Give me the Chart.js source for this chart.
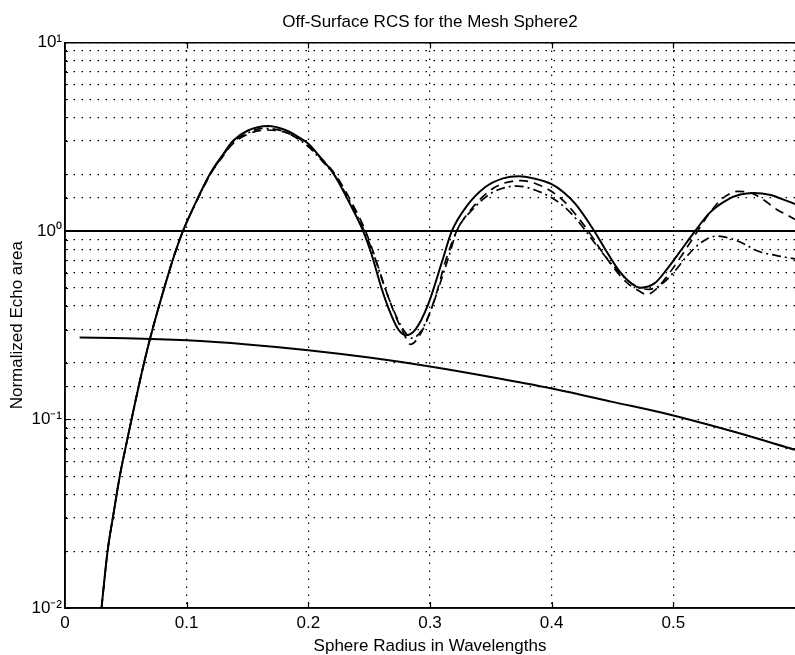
<!DOCTYPE html>
<html>
<head>
<meta charset="utf-8">
<title>Off-Surface RCS for the Mesh Sphere2</title>
<script src="https://cdn.jsdelivr.net/npm/chart.js@4/dist/chart.umd.min.js"></script>
<style>
    html, body { margin: 0; padding: 0; background: #fff; }
    #wrap { width: 795px; height: 655px; }
</style>
</head>
<body>
<div id="wrap"><canvas id="rcs-chart" width="795" height="655"></canvas></div>
<script>
// Data (x = sphere radius in wavelengths, y = normalized echo area)

// solid curve
const solidX = [0.030, 0.035, 0.040, 0.045, 0.050, 0.058, 0.065, 0.070, 0.080, 0.090,
    0.097, 0.108, 0.119, 0.130, 0.138, 0.150, 0.167, 0.180, 0.190, 0.200,
    0.210, 0.221, 0.233, 0.245, 0.252, 0.260, 0.268, 0.274, 0.280, 0.288,
    0.298, 0.310, 0.318, 0.330, 0.345, 0.360, 0.373, 0.385, 0.400, 0.410,
    0.420, 0.435, 0.445, 0.455, 0.465, 0.473, 0.485, 0.495, 0.505, 0.518,
    0.530, 0.545, 0.555, 0.566, 0.580, 0.590, 0.600];
const solidY = [0.010, 0.020, 0.032, 0.050, 0.072, 0.126, 0.20, 0.27, 0.46, 0.75,
    1.0, 1.44, 2.0, 2.55, 3.0, 3.4, 3.6, 3.45, 3.2, 2.9,
    2.45, 2.0, 1.44, 1.0, 0.75, 0.5, 0.36, 0.3, 0.28, 0.3,
    0.4, 0.69, 1.0, 1.35, 1.7, 1.9, 1.95, 1.9, 1.77, 1.6,
    1.38, 1.0, 0.78, 0.62, 0.53, 0.50, 0.53, 0.63, 0.77, 1.0,
    1.25, 1.47, 1.56, 1.59, 1.55, 1.47, 1.39];

// dashed curve
const dashX = [0.030, 0.035, 0.040, 0.045, 0.050, 0.058, 0.065, 0.070, 0.080, 0.090,
    0.097, 0.108, 0.119, 0.130, 0.138, 0.150, 0.165, 0.180, 0.190, 0.200,
    0.210, 0.222, 0.235, 0.247, 0.255, 0.263, 0.272, 0.278, 0.284, 0.290,
    0.297, 0.305, 0.313, 0.322, 0.335, 0.350, 0.362, 0.375, 0.387, 0.400,
    0.410, 0.418, 0.430, 0.440, 0.450, 0.462, 0.472, 0.478, 0.487, 0.497,
    0.508, 0.520, 0.530, 0.540, 0.553, 0.565, 0.575, 0.585, 0.595, 0.600];
const dashY = [0.010, 0.020, 0.032, 0.050, 0.072, 0.126, 0.20, 0.27, 0.46, 0.75,
    1.0, 1.43, 1.97, 2.5, 2.9, 3.25, 3.43, 3.35, 3.15, 2.85,
    2.45, 2.0, 1.44, 1.0, 0.72, 0.5, 0.35, 0.29, 0.25, 0.27,
    0.33, 0.46, 0.7, 1.0, 1.33, 1.65, 1.8, 1.85, 1.78, 1.62,
    1.44, 1.26, 1.0, 0.8, 0.65, 0.53, 0.48, 0.46, 0.5, 0.6,
    0.76, 1.0, 1.25, 1.48, 1.62, 1.58, 1.45, 1.3, 1.2, 1.15];

// dash-dot curve
const dashDotX = [0.030, 0.035, 0.040, 0.045, 0.050, 0.058, 0.065, 0.070, 0.080, 0.090,
    0.097, 0.108, 0.119, 0.130, 0.138, 0.150, 0.163, 0.178, 0.190, 0.200,
    0.210, 0.222, 0.235, 0.246, 0.254, 0.262, 0.270, 0.278, 0.285, 0.292,
    0.300, 0.308, 0.316, 0.322, 0.335, 0.350, 0.362, 0.372, 0.385, 0.400,
    0.410, 0.418, 0.428, 0.438, 0.450, 0.462, 0.472, 0.480, 0.490, 0.500,
    0.510, 0.520, 0.528, 0.536, 0.545, 0.557, 0.570, 0.585, 0.600];
const dashDotY = [0.010, 0.020, 0.032, 0.050, 0.072, 0.126, 0.20, 0.27, 0.46, 0.75,
    1.0, 1.43, 1.98, 2.52, 2.95, 3.3, 3.5, 3.4, 3.12, 2.8,
    2.4, 1.95, 1.4, 1.0, 0.74, 0.52, 0.38, 0.3, 0.27, 0.29,
    0.37, 0.52, 0.75, 1.0, 1.3, 1.58, 1.7, 1.73, 1.66, 1.5,
    1.35, 1.2, 1.0, 0.82, 0.66, 0.55, 0.5, 0.49, 0.52, 0.6,
    0.72, 0.84, 0.91, 0.94, 0.92, 0.86, 0.78, 0.74, 0.71];

// slowly falling lower curve
const lowX = [0.012, 0.05, 0.1, 0.15, 0.2, 0.25, 0.3, 0.35, 0.4, 0.45, 0.5, 0.55, 0.6];
const lowY = [0.272, 0.270, 0.263, 0.250, 0.233, 0.213, 0.191, 0.168, 0.146, 0.124, 0.105, 0.086, 0.069];

// reference level at 1
const refX = [0, 0.6];
const refY = [1, 1];

// tick labels
const xTickLabels = ['0', '0.1', '0.2', '0.3', '0.4', '0.5'];
const yTickValues = [0.01, 0.1, 1, 10];
const yTickLabels = ['10\u207B\u00B2', '10\u207B\u00B9', '10\u2070', '10\u00B9'];

const fontFamily = "'Liberation Sans', Arial, Helvetica, sans-serif";
Chart.defaults.font.family = fontFamily;
Chart.defaults.font.size = 17;
Chart.defaults.color = '#000';

function toPoints(xs, ys) {
    return xs.map((x, i) => ({ x: x, y: ys[i] }));
}

function lineSet(xs, ys, dash, width) {
    return {
        data: toPoints(xs, ys),
        borderColor: '#000',
        borderWidth: width,
        borderDash: dash,
        pointRadius: 0,
        fill: false,
        cubicInterpolationMode: 'monotone'
    };
}

const gridStyle = { color: '#000', lineWidth: 1.2, drawTicks: false };
const dotted = { display: true, color: '#000', width: 1.5, dash: [1.5, 6.5] };

const ctx = document.getElementById('rcs-chart').getContext('2d');
new Chart(ctx, {
    type: 'line',
    data: {
        datasets: [
            lineSet(refX, refY, [], 2),
            lineSet(lowX, lowY, [], 2),
            lineSet(dashDotX, dashDotY, [9, 4, 2, 4], 1.7),
            lineSet(dashX, dashY, [9, 6], 1.7),
            lineSet(solidX, solidY, [], 2)
        ]
    },
    options: {
        responsive: false,
        animation: false,
        layout: { padding: 0 },
        plugins: {
            legend: { display: false },
            tooltip: { enabled: false },
            title: {
                display: true,
                fullSize: false,
                text: 'Off-Surface RCS for the Mesh Sphere2',
                font: { size: 17, weight: 'normal' },
                color: '#000',
                padding: { top: 12, bottom: 10 }
            }
        },
        scales: {
            x: {
                type: 'linear',
                min: 0,
                max: 0.6,
                grid: gridStyle,
                border: dotted,
                ticks: {
                    stepSize: 0.1,
                    padding: 5,
                    maxRotation: 0,
                    callback: function(value) {
                        const i = Math.round(value * 10);
                        return i < xTickLabels.length ? xTickLabels[i] : null;
                    }
                },
                title: {
                    display: true,
                    text: 'Sphere Radius in Wavelengths',
                    padding: { top: 0, bottom: -2 }
                },
                afterFit: function(scale) { scale.height = 47; }
            },
            xTop: {
                type: 'linear',
                position: 'top',
                min: 0,
                max: 0.6,
                grid: { display: false, drawTicks: false },
                ticks: { display: false },
                border: { display: true, color: '#000', width: 1.5 },
                afterFit: function(scale) { scale.height = 0; }
            },
            y: {
                type: 'logarithmic',
                min: 0.01,
                max: 10,
                grid: gridStyle,
                border: dotted,
                ticks: {
                    autoSkip: false,
                    padding: 3,
                    callback: function(value) {
                        const i = yTickValues.findIndex(v => Math.abs(v - value) / v < 1e-6);
                        return i >= 0 ? yTickLabels[i] : '';
                    }
                },
                title: {
                    display: true,
                    text: 'Normalized Echo area',
                    padding: { top: 7, bottom: 0 }
                },
                afterFit: function(scale) { scale.width = 65; }
            }
        }
    },
    plugins: [{
        // solid axis lines on left and bottom plus inward tick marks
        id: 'axisLines',
        afterDatasetsDraw(chart) {
            const a = chart.chartArea;
            const c = chart.ctx;
            const xs = chart.scales.x;
            const ys = chart.scales.y;
            c.save();
            c.strokeStyle = '#000';
            c.setLineDash([]);
            c.lineWidth = 1.5;
            c.beginPath();
            c.moveTo(a.left, a.top);
            c.lineTo(a.left, a.bottom);
            c.lineTo(a.right, a.bottom);
            c.stroke();

            c.lineWidth = 1.2;
            c.beginPath();
            xs.ticks.forEach(t => {
                if (t.value <= 0 || t.value >= 0.6 - 1e-9) return;
                const px = Math.round(xs.getPixelForValue(t.value)) + 0.5;
                c.moveTo(px, a.bottom);
                c.lineTo(px, a.bottom - 6);
                c.moveTo(px, a.top);
                c.lineTo(px, a.top + 6);
            });
            ys.ticks.forEach(t => {
                const major = yTickValues.some(v => Math.abs(v - t.value) / v < 1e-6);
                const py = Math.round(ys.getPixelForValue(t.value)) + 0.5;
                c.moveTo(a.left, py);
                c.lineTo(a.left + (major ? 6 : 3), py);
            });
            c.stroke();
            c.restore();
        }
    }]
});
</script>
</body>
</html>
